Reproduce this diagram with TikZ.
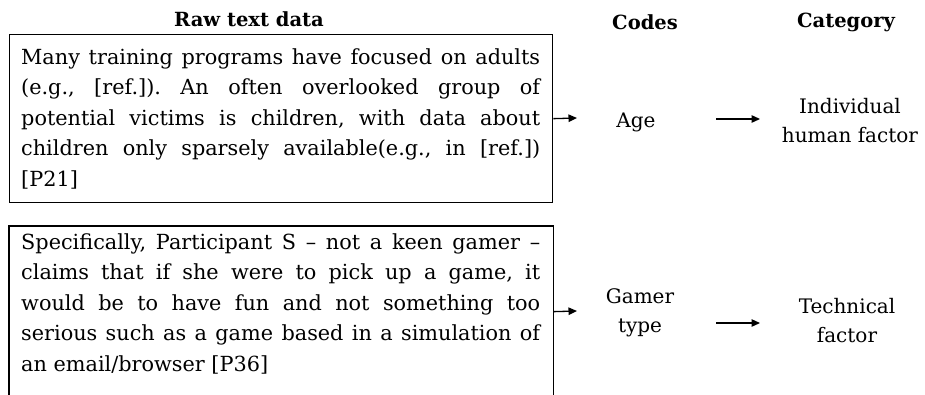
\documentclass[tikz,border=0pt]{standalone}
\usepackage{fontspec}
\setmainfont{DejaVu Serif}
\usetikzlibrary{arrows.meta}
\begin{document}
\begin{tikzpicture}[x=1pt,y=-1pt,
  body/.style={font=\fontsize{20.8}{30.5}\selectfont, inner sep=0pt, anchor=base west},
  head/.style={font=\fontsize{19.5}{24}\selectfont\bfseries, inner sep=0pt, anchor=base},
  lbl/.style={font=\fontsize{20}{29.5}\selectfont, inner sep=0pt, anchor=base},
  frame/.style={line width=1.3pt, inner sep=0pt, anchor=north west, minimum width=543pt},
  arr/.style={line width=1.3pt, -{Triangle[length=8.5pt,width=7.5pt]}}]
\path[use as bounding box] (0,0) rectangle (925,394);

% headers
\node[head] (hraw) at (249,26) {Raw text data};
\node[head] (hcodes) at (645,29) {Codes};
\node[head] (hcat) at (846,27) {Category};

% box 1
\node[frame, draw, minimum height=168pt] (box1) at (9,34) {};
\node[body] (text1) at (21,64) {\parbox[t]{519pt}{\frenchspacing
\makebox[\linewidth][s]{Many training programs have focused on adults}\\
\makebox[\linewidth][s]{(e.g., [ref.]). An often overlooked group of}\\
\makebox[\linewidth][s]{potential victims is children, with data about}\\
\makebox[\linewidth][s]{children only sparsely available(e.g., in [ref.])}\\
\relax{[P21]}}};

% box 2 (open at the bottom edge of the picture)
\node[frame, minimum height=170pt] (box2) at (9,226) {};
\draw[line width=1.3pt] (box2.south west) |- (box2.north east) -- (box2.south east);
\node[body] (text2) at (21,249) {\parbox[t]{519pt}{\frenchspacing
\makebox[\linewidth][s]{Specifically, Participant S – not a keen gamer –}\\
\makebox[\linewidth][s]{claims that if she were to pick up a game, it}\\
\makebox[\linewidth][s]{would be to have fun and not something too}\\
\makebox[\linewidth][s]{serious such as a game based in a simulation of}\\
an email/browser [P36]}};

% codes
\node[lbl] (age) at (636,127) {Age};
\node[lbl] (gamer) at (640,303) {\parbox[t]{120pt}{\centering Gamer\\type}};

% categories
\node[lbl] (indiv) at (850,113) {\parbox[t]{160pt}{\centering Individual\\human factor}};
\node[lbl] (tech) at (847,313) {\parbox[t]{160pt}{\centering Technical\\factor}};

% arrow ends
\coordinate (t1) at (577,118);
\coordinate (t2) at (577,311);
\coordinate (s3) at (716,119);
\coordinate (t3) at (760,119);
\coordinate (s4) at (716,323);
\coordinate (t4) at (760,323);

\draw[arr] (box1.east) -- (t1);
\draw[arr] (box2.east) -- (t2);
\draw[arr] (s3) -- (t3);
\draw[arr] (s4) -- (t4);
\end{tikzpicture}
\end{document}
